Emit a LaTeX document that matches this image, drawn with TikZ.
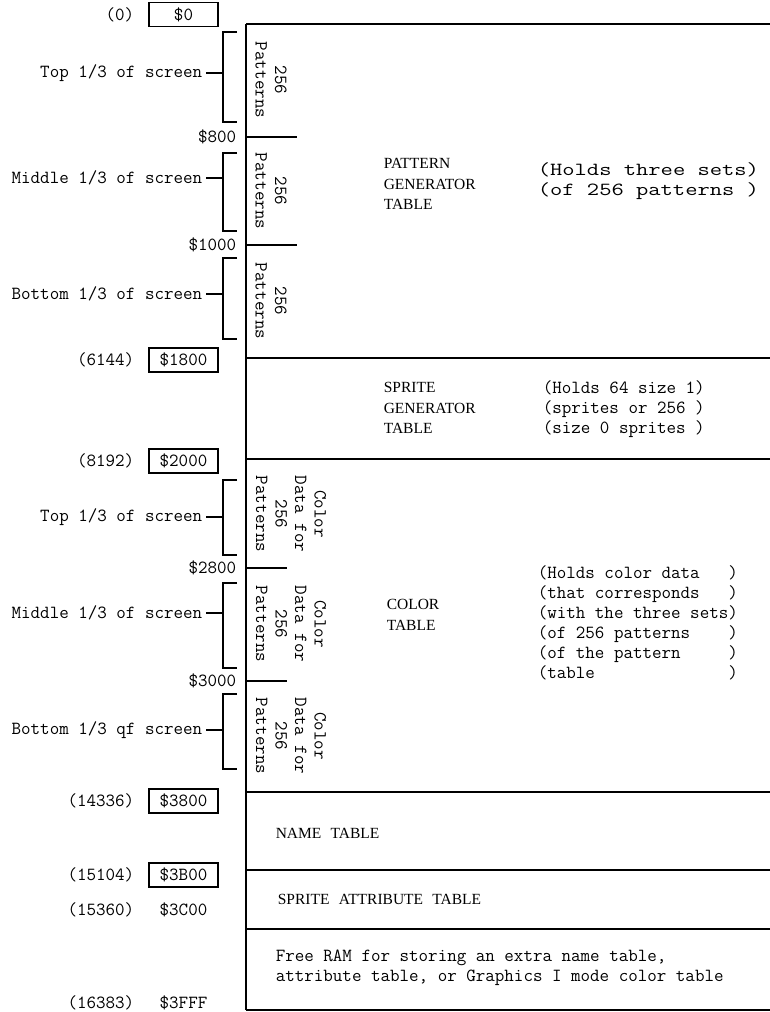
\documentclass[tikz,border=0pt]{standalone}
\usepackage{fontspec}
\setmainfont{Liberation Serif}
\newfontfamily\tablefont{Liberation Serif}[WordSpace=2.4]
\newfontfamily\widemono{Latin Modern Mono}[FakeStretch=1.29]
\usepackage{tikz}
\usetikzlibrary{positioning, calc}

\begin{document}
\begin{tikzpicture}[x=1pt, y=-1pt, line width=1.6pt,
    lbl/.style={font=\ttfamily\fontsize{18.5}{20}\selectfont, inner sep=1pt},
    hexbox/.style={draw, lbl, minimum width=69pt, minimum height=24pt, inner sep=0pt},
    scrlbl/.style={lbl, anchor=east, inner sep=3pt},
    rotlbl/.style={lbl, rotate=-90, align=center, font=\ttfamily\fontsize{18.5}{19.5}\selectfont},
    tname/.style={font=\tablefont\fontsize{15.5}{20.5}\selectfont, align=left, anchor=west, inner sep=0pt},
    note/.style={lbl, align=left, anchor=west, inner sep=0pt}]
  \useasboundingbox (0,0) rectangle (770,1012);

  \draw (246,24) -- (246,1010);
  \draw (246,24) -- (770,24);
  \draw (246,358) -- (770,358);
  \draw (246,459) -- (770,459);
  \draw (246,792) -- (770,792);
  \draw (246,870) -- (770,870);
  \draw (246,929) -- (770,929);
  \draw (246,1010) -- (770,1010);
  \draw (246,137) -- (297,137);
  \draw (246,245) -- (297,245);
  \draw (246,568) -- (287,568);
  \draw (246,681) -- (287,681);

  \node[lbl, anchor=east] (dec0) at (136,15) {(0)};
  \node[hexbox] (hex0) at (183.5,14.5) {\$0};
  \node[lbl, anchor=east] (dec6144) at (136,360) {(6144)};
  \node[hexbox] (hex1800) at (183.5,360) {\$1800};
  \node[lbl, anchor=east] (dec8192) at (136,461) {(8192)};
  \node[hexbox] (hex2000) at (183.5,461) {\$2000};
  \node[lbl, anchor=east] (dec14336) at (136,801) {(14336)};
  \node[hexbox] (hex3800) at (183.5,801) {\$3800};
  \node[lbl, anchor=east] (dec15104) at (136,875) {(15104)};
  \node[hexbox] (hex3B00) at (183.5,875) {\$3B00};
  \node[lbl, anchor=east] (dec15360) at (136,910) {(15360)};
  \node[lbl] (hex3C00) at (183.5,910) {\$3C00};
  \node[lbl, anchor=east] (dec16383) at (136,1003) {(16383)};
  \node[lbl] (hex3FFF) at (183.5,1003) {\$3FFF};

  \node[lbl, anchor=east] (hex800) at (238,137) {\$800};
  \node[lbl, anchor=east] (hex1000) at (238,245) {\$1000};
  \node[lbl, anchor=east] (hex2800) at (238,568) {\$2800};
  \node[lbl, anchor=east] (hex3000) at (238,681) {\$3000};

  \node[scrlbl] (pgtop) at (206,73) {Top 1/3 of screen};
  \node[scrlbl] (pgmid) at (206,178) {Middle 1/3 of screen};
  \node[scrlbl] (pgbot) at (206,294) {Bottom 1/3 of screen};
  \node[scrlbl] (cttop) at (206,517) {Top 1/3 of screen};
  \node[scrlbl] (ctmid) at (206,613) {Middle 1/3 of screen};
  \node[scrlbl] (ctbot) at (206,730) {Bottom 1/3 qf screen};

  \coordinate (brkpgtop) at (223,73);
  \coordinate (brkpgmid) at (223,178);
  \coordinate (brkpgbot) at (223,294);
  \coordinate (brkcttop) at (223,517);
  \coordinate (brkctmid) at (223,613);
  \coordinate (brkctbot) at (223,730);
  \draw (237,32) -- (223,32) -- (223,122) -- (237,122);
  \draw (237,153) -- (223,153) -- (223,231) -- (237,231);
  \draw (237,258) -- (223,258) -- (223,339) -- (237,339);
  \draw (237,480) -- (223,480) -- (223,555) -- (237,555);
  \draw (237,583) -- (223,583) -- (223,668) -- (237,668);
  \draw (237,694) -- (223,694) -- (223,769) -- (237,769);
  \draw (pgtop.east) -- (brkpgtop);
  \draw (pgmid.east) -- (brkpgmid);
  \draw (pgbot.east) -- (brkpgbot);
  \draw (cttop.east) -- (brkcttop);
  \draw (ctmid.east) -- (brkctmid);
  \draw (ctbot.east) -- (brkctbot);

  \node[rotlbl] (pgpat1) at (271,80) {256\\Patterns};
  \node[rotlbl] (pgpat2) at (271,191) {256\\Patterns};
  \node[rotlbl] (pgpat3) at (271,301) {256\\Patterns};
  \node[rotlbl] (ctpat1) at (291,514) {Color\\Data for\\256\\Patterns};
  \node[rotlbl] (ctpat2) at (291,624) {Color\\Data for\\256\\Patterns};
  \node[rotlbl] (ctpat3) at (291,736) {Color\\Data for\\256\\Patterns};

  \node[tname] (pgt) at (383,184) {PATTERN\\GENERATOR\\TABLE};
  \node[note, font=\widemono\fontsize{18.5}{20}\selectfont] (pgtnote) at (537,181)
    {(Holds three sets)\\(of 256 patterns )};
  \node[tname] (sgt) at (383,408) {SPRITE\\GENERATOR\\TABLE};
  \node[note] (sgtnote) at (542,409)
    {(Holds 64 size 1)\\(sprites or 256 )\\(size 0 sprites )};
  \node[tname] (ct) at (386,615) {COLOR\\TABLE};
  \node[note] (ctnote) at (537,623)
    {(Holds color data~~~)\\(that corresponds~~~)\\(with the three sets)\\(of 256 patterns~~~~)\\(of the pattern~~~~~)\\(table~~~~~~~~~~~~~~)};
  \node[tname] (nt) at (275,833) {NAME TABLE};
  \node[tname] (sat) at (277,899) {SPRITE ATTRIBUTE TABLE};
  \node[note] (freeram) at (275,968)
    {Free RAM for storing an extra name table,\\attribute table, or Graphics I mode color table};
\end{tikzpicture}
\end{document}
